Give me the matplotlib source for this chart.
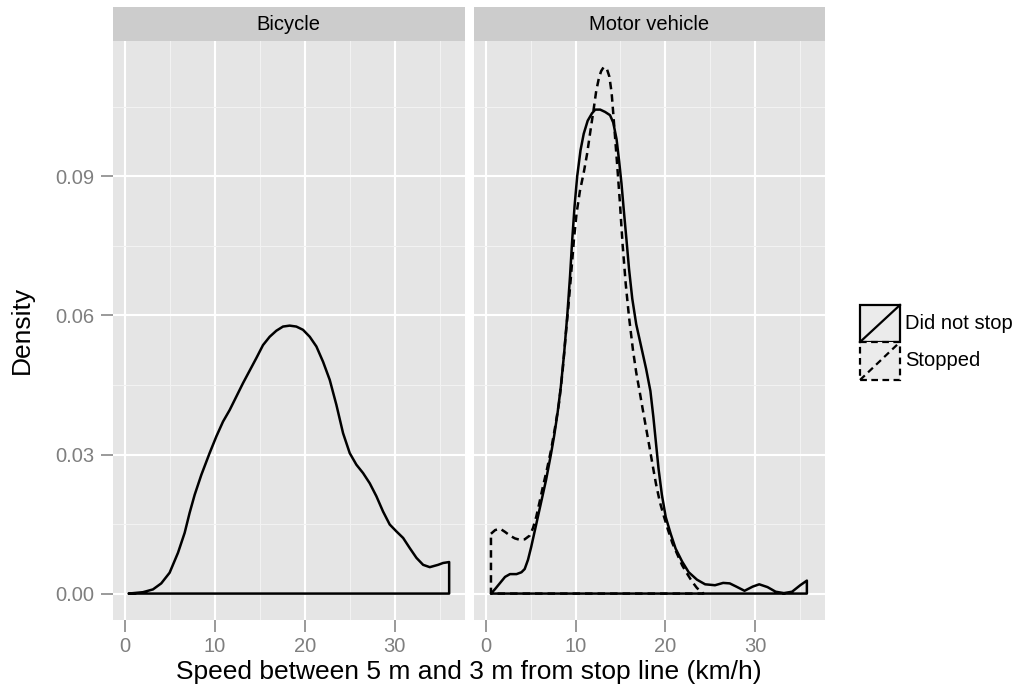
import matplotlib.pyplot as plt
from matplotlib.patches import Rectangle
from matplotlib.lines import Line2D
from matplotlib.ticker import MultipleLocator

plt.rcParams['font.family'] = ['Liberation Sans', 'DejaVu Sans']

# kernel density estimates of speed (km/h)
bike_x = [0.44, 2.04, 3.15, 4.07, 5.0, 5.93, 6.67, 7.22, 7.78, 8.52, 9.44, 10.19, 10.93,
          11.67, 12.41, 13.15, 13.89, 14.63, 15.37, 16.11, 16.85, 17.59, 18.33, 19.07,
          19.81, 20.56, 21.30, 22.04, 22.78, 23.52, 24.26, 25.0, 25.74, 26.48, 27.22,
          27.96, 28.70, 29.44, 30.19, 30.93, 31.67, 32.41, 33.15, 33.89, 34.81, 35.37,
          36.04]
bike_y = [0.0, 0.0003, 0.0009, 0.0022, 0.0045, 0.0088, 0.0131, 0.0174, 0.0213, 0.0256,
          0.0303, 0.0339, 0.0371, 0.0396, 0.0425, 0.0454, 0.0481, 0.0508, 0.0536, 0.0554,
          0.0567, 0.0576, 0.0578, 0.0576, 0.0569, 0.0554, 0.0533, 0.0500, 0.0461, 0.0407,
          0.0346, 0.0303, 0.0278, 0.0260, 0.0238, 0.0210, 0.0177, 0.0149, 0.0134, 0.0120,
          0.0098, 0.0077, 0.0062, 0.0057, 0.0062, 0.0066, 0.0068]

motor_go_x = [0.57, 1.04, 1.59, 2.14, 2.69, 3.42, 3.97, 4.33, 4.70, 5.06, 5.61, 6.16,
              6.71, 7.26, 7.62, 7.99, 8.35, 8.72, 9.09, 9.38, 9.63, 9.89, 10.18, 10.55,
              10.91, 11.35, 11.83, 12.19, 12.74, 13.29, 13.84, 14.2, 14.57, 14.86, 15.12,
              15.37, 15.67, 15.96, 16.32, 16.76, 17.31, 17.86, 18.34, 18.67, 18.96, 19.25,
              19.62, 20.05, 20.6, 21.15, 21.88, 22.61, 23.53, 24.44, 25.54, 26.45, 27.18,
              27.92, 28.83, 29.74, 30.47, 31.39, 32.30, 33.22, 34.13, 35.04, 35.78]
motor_go_y = [0.0, 0.0010, 0.0023, 0.0036, 0.0042, 0.0042, 0.0046, 0.0053, 0.0073, 0.0101,
              0.0149, 0.0197, 0.0245, 0.0301, 0.0341, 0.0389, 0.0445, 0.0517, 0.0604,
              0.0684, 0.0764, 0.0836, 0.0900, 0.0956, 0.0992, 0.1020, 0.1036, 0.1044,
              0.1044, 0.1039, 0.1032, 0.1016, 0.0980, 0.0932, 0.0884, 0.0828, 0.0764,
              0.0700, 0.0636, 0.0581, 0.0533, 0.0485, 0.0437, 0.0381, 0.0325, 0.0269,
              0.0213, 0.0165, 0.0129, 0.0097, 0.0069, 0.0046, 0.0030, 0.0020, 0.0018,
              0.0023, 0.0022, 0.0015, 0.0006, 0.0015, 0.0020, 0.0014, 0.0004, 0.0001,
              0.0004, 0.0018, 0.0028]

motor_stop_x = [0.57, 1.04, 1.59, 2.14, 2.69, 3.24, 3.78, 4.33, 4.88, 5.25, 5.61, 5.98,
                6.34, 6.82, 7.26, 7.70, 8.17, 8.54, 8.90, 9.20, 9.45, 9.82, 10.11, 10.48,
                10.91, 11.28, 11.64, 12.01, 12.30, 12.60, 12.85, 13.11, 13.29, 13.47,
                13.77, 14.02, 14.20, 14.42, 14.64, 14.94, 15.23, 15.59, 15.96, 16.40,
                16.76, 17.13, 17.49, 17.86, 18.23, 18.59, 18.96, 19.40, 19.87, 20.31,
                20.79, 21.33, 21.88, 22.43, 22.98, 23.53, 24.08, 24.26]
motor_stop_y = [0.0129, 0.0137, 0.0140, 0.0133, 0.0125, 0.0119, 0.0116, 0.0117, 0.0125,
                0.0141, 0.0165, 0.0197, 0.0229, 0.0269, 0.0309, 0.0357, 0.0413, 0.0477,
                0.0557, 0.0620, 0.0676, 0.0764, 0.0820, 0.0868, 0.0908, 0.0948, 0.0996,
                0.1044, 0.1084, 0.1112, 0.1127, 0.1135, 0.1135, 0.1133, 0.1115, 0.1080,
                0.1036, 0.0980, 0.0924, 0.0844, 0.0756, 0.0668, 0.0596, 0.0525, 0.0477,
                0.0437, 0.0397, 0.0357, 0.0317, 0.0277, 0.0237, 0.0197, 0.0165, 0.0137,
                0.0109, 0.0085, 0.0061, 0.0043, 0.0026, 0.0012, 0.0003, 0.0]

x_ticks = [0, 10, 20, 30]
y_ticks = [0.0, 0.03, 0.06, 0.09]
y_ticklabels = ['0.00', '0.03', '0.06', '0.09']
facet_labels = ['Bicycle', 'Motor vehicle']
legend_labels = ['Did not stop', 'Stopped']

W, H = 1024, 695
DASH = (0, (3, 2))


def box(left, top, right, bottom):
    return [left / W, 1 - bottom / H, (right - left) / W, (bottom - top) / H]


def density_outline(ax, xs, ys, ls):
    # ggplot-style density: curve closed along the baseline
    px = list(xs) + [xs[-1], xs[0]]
    py = list(ys) + [0.0, 0.0]
    ax.fill(px, py, facecolor='none', edgecolor='black', linewidth=1.8,
            linestyle=ls, joinstyle='round', zorder=3)


fig = plt.figure(figsize=(10.24, 6.95), dpi=100)

panel_edges = [(112.7, 465), (474, 825)]
panel_top, panel_bottom, strip_top = 41, 620, 7

axes = []
for i, (l, r) in enumerate(panel_edges):
    ax = fig.add_axes(box(l, panel_top, r, panel_bottom))
    ax.set_facecolor('#E5E5E5')
    for s in ax.spines.values():
        s.set_visible(False)
    ax.set_xlim(-1.32, 37.8)
    ax.set_ylim(-0.0057, 0.1192)
    ax.set_xticks(x_ticks)
    ax.set_yticks(y_ticks)
    ax.xaxis.set_minor_locator(MultipleLocator(5))
    ax.yaxis.set_minor_locator(MultipleLocator(0.015))
    ax.grid(which='major', color='white', linewidth=1.5, zorder=1)
    ax.grid(which='minor', color='#F2F2F2', linewidth=0.8, zorder=0)
    ax.set_axisbelow(True)
    ax.tick_params(which='major', direction='out', length=8.5, width=1.1,
                   color='#7F7F7F', labelcolor='#7F7F7F', labelsize=14.5)
    ax.tick_params(axis='x', pad=4)
    ax.tick_params(axis='y', pad=5)
    ax.tick_params(which='minor', length=0)
    if i == 0:
        ax.set_yticklabels(y_ticklabels)
    else:
        ax.tick_params(axis='y', left=False, labelleft=False)

    strip = fig.add_axes(box(l, strip_top, r, panel_top))
    strip.set_facecolor('#CCCCCC')
    strip.set_xticks([])
    strip.set_yticks([])
    for s in strip.spines.values():
        s.set_visible(False)
    strip.text(0.5, 0.5, facet_labels[i], ha='center', va='center',
               fontsize=14.5, color='black', transform=strip.transAxes)
    axes.append(ax)

density_outline(axes[0], bike_x, bike_y, 'solid')
density_outline(axes[1], motor_stop_x, motor_stop_y, DASH)
density_outline(axes[1], motor_go_x, motor_go_y, 'solid')

fig.text(469 / W, 1 - 672 / H, 'Speed between 5 m and 3 m from stop line (km/h)',
         ha='center', va='center', fontsize=19)
fig.text(22 / W, 1 - 330 / H, 'Density', ha='center', va='center',
         rotation=90, fontsize=19)

# legend drawn in pixel units
leg = fig.add_axes(box(850, 298, 1024, 388))
leg.set_xlim(850, 1024)
leg.set_ylim(388, 298)
leg.axis('off')
key_rows = [(305, 342), (342, 380)]
key_styles = ['solid', DASH]
for (t, b), ls, lab in zip(key_rows, key_styles, legend_labels):
    leg.add_patch(Rectangle((860, t), 40, b - t, facecolor='#EBEBEB',
                            edgecolor='black', linewidth=1.6, linestyle=ls))
    leg.add_line(Line2D([860, 900], [b, t], color='black', linewidth=1.6,
                        linestyle=ls))
    leg.text(905, (t + b) / 2, lab, ha='left', va='center', fontsize=14.5)

fig.savefig('out.png', dpi=100, facecolor='white')
